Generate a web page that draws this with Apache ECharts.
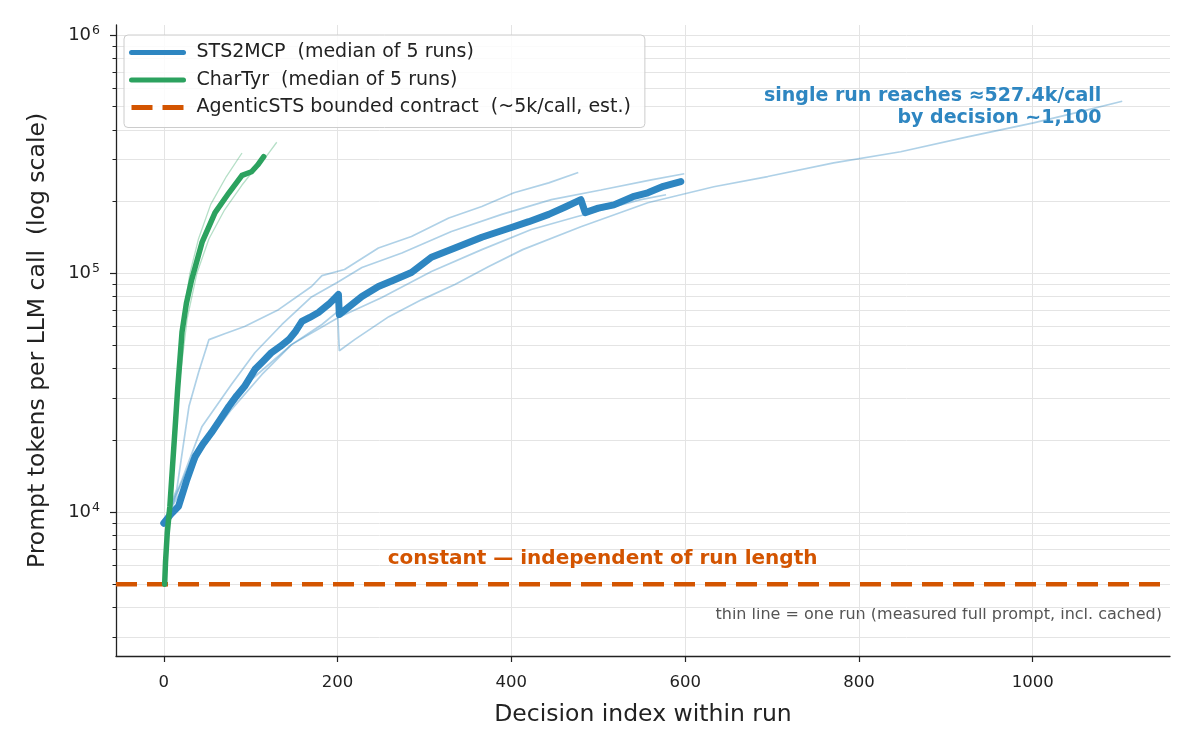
<!DOCTYPE html>
<html>
<head>
<meta charset="utf-8">
<title>Prompt tokens per LLM call</title>
<script src="https://cdn.jsdelivr.net/npm/echarts@6/dist/echarts.min.js"></script>
<style>
  html, body { margin: 0; padding: 0; background: #fff; }
  #chart { width: 1200px; height: 741px; }
</style>
</head>
<body>
<div id="chart"></div>
<script>
// decision index, prompt tokens per call
var stsMedian = [[0, 9000], [3, 9300], [8, 9800], [17, 10600], [26, 13500], [36, 17100], [45, 19300], [55, 21600],
    [65, 24500], [75, 27800], [84, 30800], [93, 33700], [105, 39700], [114, 42800], [124, 46700], [134, 49500],
    [144, 52900], [152, 57500], [159, 63000], [168, 65500], [178, 68700], [190, 74500], [201, 81700], [202, 67400],
    [215, 73500], [228, 80200], [247, 88300], [265, 94000], [285, 101000], [308, 117000], [335, 128000],
    [366, 142000], [400, 156000], [420, 165000], [443, 177000], [462, 190000], [480, 204000], [485, 180000],
    [500, 188000], [518, 194000], [540, 210000], [557, 218000], [575, 232000], [595, 243000]];

var charTyrMedian = [[1, 5000], [2, 6200], [4, 8200], [7, 10600], [10, 15500], [13, 22500], [16, 33000],
    [21, 57000], [26, 75000], [32, 94000], [44, 135000], [59, 180000], [75, 218000], [90, 258000],
    [101, 267000], [108, 285000], [115, 309000]];

var stsRuns = [
    [[1, 9300], [15, 12500], [29, 27800], [40, 38500], [52, 52900], [70, 56000], [93, 60000], [132, 70600],
     [170, 88300], [182, 98000], [208, 104000], [247, 128000], [285, 143000], [328, 171000], [366, 191000],
     [403, 218000], [443, 240000], [477, 265000]],
    [[3, 9500], [21, 13700], [44, 22900], [78, 34400], [105, 46700], [136, 61200], [170, 79800], [201, 92400],
     [228, 106000], [274, 122000], [331, 150000], [389, 177000], [446, 204000], [503, 224000], [561, 247000],
     [599, 262000]],
    [[2, 9200], [32, 16700], [67, 24500], [101, 36000], [147, 50400], [201, 65500], [251, 79400], [308, 102000],
     [366, 126000], [423, 153000], [475, 173000], [549, 204000], [578, 214000]],
    [[1, 9300], [21, 12500], [44, 18400], [78, 27000], [113, 37800], [147, 50400], [182, 61200], [200, 69300],
     [202, 47500], [220, 53000], [259, 66000], [297, 77800], [335, 90000], [374, 107000], [413, 126000],
     [480, 157000], [557, 198000], [633, 231000], [695, 255000], [771, 291000], [848, 324000], [925, 374000],
     [1001, 428000], [1055, 477000], [1103, 527400]]
];

var charTyrRuns = [
    [[1, 5000], [4, 8000], [7, 11000], [11, 21000], [16, 40000], [22, 65000], [30, 100000], [40, 140000],
     [54, 195000], [72, 255000], [90, 320000]],
    [[2, 5000], [5, 7500], [8, 11000], [12, 19000], [18, 35000], [27, 65000], [38, 100000], [52, 140000],
     [70, 185000], [90, 235000], [105, 275000], [118, 310000], [130, 355000]]
];

var boundedContract = [[-55, 5000], [1158, 5000]];

var xTicks = [0, 200, 400, 600, 800, 1000];
var yMajor = [10000, 100000, 1000000];
var yMinor = [3000, 4000, 5000, 6000, 7000, 8000, 9000,
    20000, 30000, 40000, 50000, 60000, 70000, 80000, 90000,
    200000, 300000, 400000, 500000, 600000, 700000, 800000, 900000];

var BLUE = '#2e86c1', GREEN = '#2ca25f', ORANGE = '#d35400';
var FONT = 'DejaVu Sans';

var chart = echarts.init(document.getElementById('chart'), null, { renderer: 'canvas' });

var series = [];
stsRuns.forEach(function (run, i) {
    series.push({
        name: 'sts-run-' + i, type: 'line', data: run, symbol: 'none', silent: true, z: 1,
        lineStyle: { color: BLUE, width: 1.7, opacity: 0.38 }
    });
});
charTyrRuns.forEach(function (run, i) {
    series.push({
        name: 'chartyr-run-' + i, type: 'line', data: run, symbol: 'none', silent: true, z: 1,
        lineStyle: { color: GREEN, width: 1.3, opacity: 0.35 }
    });
});
series.push({
    name: 'AgenticSTS bounded contract  (~5k/call, est.)', type: 'line', data: boundedContract,
    symbol: 'none', z: 2, color: ORANGE,
    lineStyle: { color: ORANGE, width: 4.5, type: [21, 10] },
    markPoint: {
        symbol: 'circle', symbolSize: 0, silent: true,
        label: {
            show: true, position: 'inside', color: ORANGE, fontFamily: FONT, fontWeight: 'bold', fontSize: 20,
            formatter: 'constant — independent of run length'
        },
        data: [{ coord: [505, 6400] }]
    }
});
series.push({
    name: 'STS2MCP  (median of 5 runs)', type: 'line', data: stsMedian, symbol: 'none', z: 3, color: BLUE,
    lineStyle: { color: BLUE, width: 7, cap: 'round', join: 'round' },
    markPoint: {
        symbol: 'circle', symbolSize: 0, silent: true,
        label: {
            show: true, position: 'left', distance: 0, align: 'right', color: BLUE, fontFamily: FONT,
            fontWeight: 'bold', fontSize: 19, lineHeight: 22,
            formatter: 'single run reaches ≈527.4k/call\nby decision ~1,100'
        },
        data: [{ coord: [1079, 500000] }]
    }
});
series.push({
    name: 'CharTyr  (median of 5 runs)', type: 'line', data: charTyrMedian, symbol: 'none', z: 4, color: GREEN,
    lineStyle: { color: GREEN, width: 5.5, cap: 'round', join: 'round' }
});

function powLabel(v) {
    var e = Math.round(Math.log10(v));
    return '{b|10}{s|' + e + '}';
}

chart.setOption({
    animation: false,
    backgroundColor: '#fff',
    textStyle: { fontFamily: FONT },
    grid: { left: 116, right: 30, top: 25, bottom: 85, containLabel: false },
    legend: {
        orient: 'vertical', left: 124, top: 35,
        data: ['STS2MCP  (median of 5 runs)', 'CharTyr  (median of 5 runs)',
               'AgenticSTS bounded contract  (~5k/call, est.)'],
        itemWidth: 52, itemHeight: 16, itemGap: 8.5,
        padding: [8, 14, 10.5, 5],
        borderColor: '#cccccc', borderWidth: 1, borderRadius: 4,
        backgroundColor: 'rgba(255,255,255,0.85)',
        itemStyle: { opacity: 0 },
        lineStyle: { width: 5 },
        textStyle: { fontFamily: FONT, fontSize: 19, color: '#222', padding: [0, 0, 0, 8] }
    },
    xAxis: {
        type: 'value', min: -55, max: 1158,
        name: 'Decision index within run', nameLocation: 'middle', nameGap: 47,
        nameTextStyle: { fontFamily: FONT, fontSize: 23.5, color: '#222' },
        axisLine: { lineStyle: { color: '#222', width: 1.3 } },
        axisTick: { length: 6, lineStyle: { color: '#222', width: 1.2 }, customValues: xTicks },
        axisLabel: {
            customValues: xTicks, fontFamily: FONT, fontSize: 16.5, color: '#222', margin: 18,
            formatter: function (v) { return String(v); }
        },
        splitLine: { show: true, lineStyle: { color: '#e4e4e4', width: 1 } }
    },
    yAxis: [{
        type: 'log', logBase: 10, min: 2500, max: 1100000,
        name: 'Prompt tokens per LLM call  (log scale)', nameLocation: 'middle', nameGap: 66,
        nameTextStyle: { fontFamily: FONT, fontSize: 23.5, color: '#222' },
        axisLine: { show: true, onZero: false, lineStyle: { color: '#222', width: 1.3 } },
        axisTick: { show: true, length: 6, lineStyle: { color: '#222', width: 1.2 }, customValues: yMajor },
        axisLabel: {
            customValues: yMajor, margin: 16, formatter: powLabel,
            rich: {
                b: { fontFamily: FONT, fontSize: 18, color: '#222' },
                s: { fontFamily: FONT, fontSize: 12.5, color: '#222', verticalAlign: 'bottom', padding: [0, 0, 9, 1] }
            }
        },
        splitLine: { show: true, lineStyle: { color: '#e4e4e4', width: 1 } }
    }, {
        type: 'log', logBase: 10, min: 2500, max: 1100000, position: 'left', offset: 0,
        axisLine: { show: false, onZero: false },
        axisTick: { show: true, length: 3.5, lineStyle: { color: '#222', width: 1 }, customValues: yMinor },
        axisLabel: { show: false },
        splitLine: { show: true, lineStyle: { color: '#e4e4e4', width: 1 } }
    }],
    graphic: [{
        type: 'text', right: 38, top: 607, silent: true,
        style: {
            text: 'thin line = one run (measured full prompt, incl. cached)',
            fill: '#555', fontFamily: FONT, fontSize: 16
        }
    }],
    series: series
});
</script>
</body>
</html>
